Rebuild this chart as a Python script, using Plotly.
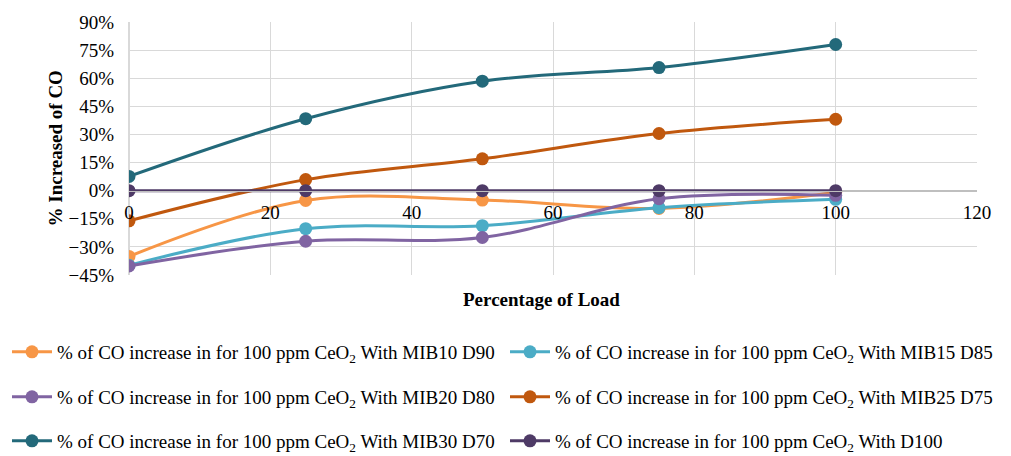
import plotly.graph_objects as go

load = [0, 25, 50, 75, 100]
mib10_d90 = [-35.1, -5.2, -5.0, -9.5, -1.0]
mib15_d85 = [-39.8, -20.3, -18.7, -9.1, -4.6]
mib20_d80 = [-40.2, -27.0, -25.0, -4.3, -2.5]
mib25_d75 = [-16.1, 5.9, 17.0, 30.5, 38.1]
mib30_d70 = [7.6, 38.4, 58.4, 65.7, 78.0]
d100 = [0, 0, 0, 0, 0]

names = [
    "% of CO increase in for 100 ppm CeO<sub>2</sub> With MIB10 D90",
    "% of CO increase in for 100 ppm CeO<sub>2</sub> With MIB15 D85",
    "% of CO increase in for 100 ppm CeO<sub>2</sub> With MIB20 D80",
    "% of CO increase in for 100 ppm CeO<sub>2</sub> With MIB25 D75",
    "% of CO increase in for 100 ppm CeO<sub>2</sub> With MIB30 D70",
    "% of CO increase in for 100 ppm CeO<sub>2</sub> With D100",
]
series = [mib10_d90, mib15_d85, mib20_d80, mib25_d75, mib30_d70, d100]
colors = ["#F79646", "#4BACC6", "#8064A2", "#C0580E", "#23697A", "#4E3A66"]

FONT = "Times New Roman, Liberation Serif, serif"
FS = 19
W, H = 1011, 456

# legend slots: (left px of symbol, centre y px)
slots = [(12, 352), (510, 352), (12, 397), (510, 397), (12, 441), (510, 441)]

fig = go.Figure()
legends = {}
for i, (name, ys, c) in enumerate(zip(names, series, colors)):
    lid = "legend" if i == 0 else f"legend{i + 1}"
    fig.add_trace(go.Scatter(
        x=load, y=ys, name=name, mode="lines+markers",
        line=dict(color=c, width=3, shape="spline"),
        marker=dict(color=c, size=13),
        legend=lid,
    ))
    sx, sy = slots[i]
    legends[lid] = dict(
        orientation="h", xref="container", yref="container",
        x=(sx - 5) / W, xanchor="left", y=(H - sy) / H, yanchor="middle",
        font=dict(family=FONT, size=FS, color="#000000"),
        bgcolor="rgba(0,0,0,0)", itemwidth=40,
    )

fig.update_layout(
    width=W, height=H,
    margin=dict(l=129, r=34, t=19, b=181),
    plot_bgcolor="white", paper_bgcolor="white",
    font=dict(family=FONT, size=FS, color="#000000"),
    showlegend=True,
    **legends,
    xaxis=dict(
        range=[0, 120], dtick=20, tick0=0,
        showgrid=True, gridcolor="#D9D9D9", gridwidth=1,
        zeroline=True, zerolinecolor="#D9D9D9",
        showline=True, linecolor="#BFBFBF", linewidth=1,
        anchor="free", position=1 / 3,
        ticks="", ticklabelstandoff=5,
        tickfont=dict(family=FONT, size=FS, color="#000000"),
    ),
    yaxis=dict(
        range=[-45, 90], dtick=15, tick0=0, ticksuffix="%",
        showgrid=True, gridcolor="#D9D9D9", gridwidth=1,
        zeroline=True, zerolinecolor="#BFBFBF",
        showline=False, ticks="", ticklabelstandoff=14,
        tickfont=dict(family=FONT, size=FS, color="#000000"),
    ),
    annotations=[
        dict(text="<b>Percentage of Load</b>", xref="paper", yref="paper",
             x=(541 - 129) / 848, y=(275 - 300) / 256, showarrow=False,
             xanchor="center", yanchor="middle",
             font=dict(family=FONT, size=FS, color="#000000")),
        dict(text="<b>% Increased of CO</b>", xref="paper", yref="paper",
             x=(55 - 129) / 848, y=(275 - 147) / 256, showarrow=False,
             textangle=-90, xanchor="center", yanchor="middle",
             font=dict(family=FONT, size=FS, color="#000000")),
    ],
)

fig.write_html("out.html")
